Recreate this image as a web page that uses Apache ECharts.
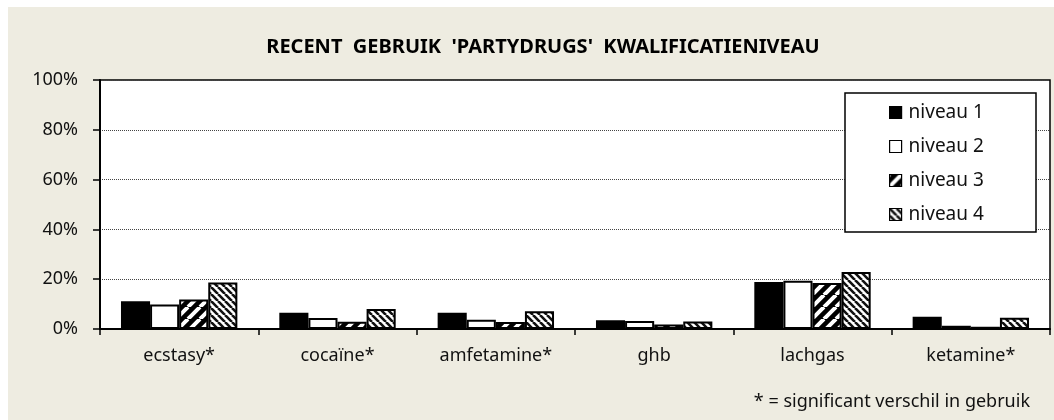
<!DOCTYPE html>
<html>
<head>
<meta charset="utf-8">
<script src="https://cdn.jsdelivr.net/npm/echarts@6/dist/echarts.min.js"></script>
<style>
  html, body { margin: 0; padding: 0; background: #ffffff; }
  #chart { position: absolute; left: 8px; top: 7px; width: 1046px; height: 413px; background: #EEECE1; }
</style>
</head>
<body>
<div id="chart"></div>
<script>
// Recent gebruik van partydrugs per kwalificatieniveau (percentages)
const categories = ['ecstasy*', 'cocaïne*', 'amfetamine*', 'ghb', 'lachgas', 'ketamine*'];
const seriesNames = ['niveau 1', 'niveau 2', 'niveau 3', 'niveau 4'];
const niveau1 = [11.1, 6.5, 6.5, 3.5, 18.9, 4.9];
const niveau2 = [9.8, 4.4, 3.7, 3.2, 19.4, 1.3];
const niveau3 = [11.8, 2.9, 2.8, 1.8, 18.5, 0.9];
const niveau4 = [18.7, 8.0, 7.1, 3.0, 22.9, 4.5];
const yTicks = [0, 20, 40, 60, 80, 100];
const chartTitle = "RECENT  GEBRUIK  'PARTYDRUGS'  KWALIFICATIENIVEAU";
const footnote = '* = significant verschil in gebruik';

// Hatch fills for niveau 3 (wide upward diagonal) and niveau 4 (downward diagonal)
function stripeTile(size, bg, fg, width, upward) {
  const c = document.createElement('canvas');
  c.width = size; c.height = size;
  const g = c.getContext('2d');
  g.fillStyle = bg;
  g.fillRect(0, 0, size, size);
  g.strokeStyle = fg;
  g.lineWidth = width;
  g.beginPath();
  for (let o = -size; o <= size; o += size) {
    if (upward) { g.moveTo(o, size); g.lineTo(o + size, 0); }
    else { g.moveTo(o, 0); g.lineTo(o + size, size); }
  }
  g.stroke();
  return c;
}
const fills = [
  '#000000',
  '#ffffff',
  { image: stripeTile(12, '#000000', '#ffffff', 4, true), repeat: 'repeat' },
  { image: stripeTile(7, '#ffffff', '#111111', 2.6, false), repeat: 'repeat' }
];
const values = [niveau1, niveau2, niveau3, niveau4];

const textColor = '#111111';
const fontFamily = '"Noto Sans", "Open Sans", sans-serif';

const chart = echarts.init(document.getElementById('chart'), null, { renderer: 'canvas' });
chart.setOption({
  backgroundColor: 'transparent',
  animation: false,
  textStyle: { fontFamily: fontFamily },
  title: [
    {
      text: footnote,
      right: 24,
      top: 386,
      padding: 0,
      textStyle: { fontFamily: fontFamily, fontSize: 18, fontWeight: 'normal', color: textColor }
    }
  ],
  graphic: [
    {
      type: 'text',
      x: 535,
      y: 40,
      style: {
        text: chartTitle,
        fill: '#000000',
        font: 'bold 20px ' + fontFamily,
        textAlign: 'center',
        textVerticalAlign: 'middle'
      }
    },
    {
      type: 'rect',
      z: 3,
      shape: { x: 837, y: 86, width: 191, height: 139 },
      style: { fill: '#ffffff', stroke: '#000000', lineWidth: 1.5 }
    }
  ],
  legend: {
    orient: 'vertical',
    left: 881,
    top: 96,
    padding: 0,
    z: 4,
    itemWidth: 12,
    itemHeight: 12,
    itemGap: 15,
    icon: 'rect',
    data: seriesNames,
    itemStyle: { borderColor: '#000000', borderWidth: 1.2 },
    textStyle: { fontFamily: fontFamily, fontSize: 19, color: textColor, padding: [0, 0, 0, 2] }
  },
  grid: {
    left: 92, top: 73, right: 4, bottom: 91,
    show: true,
    backgroundColor: '#ffffff',
    borderColor: '#000000',
    borderWidth: 1.5
  },
  xAxis: {
    type: 'category',
    data: categories,
    axisLine: { lineStyle: { color: '#000000', width: 2 } },
    axisTick: { show: true, length: 6, lineStyle: { color: '#000000', width: 1.5 } },
    axisLabel: { margin: 18, fontSize: 18, color: textColor, fontFamily: fontFamily },
    splitLine: { show: false }
  },
  yAxis: {
    type: 'value',
    min: yTicks[0],
    max: yTicks[yTicks.length - 1],
    interval: yTicks[1] - yTicks[0],
    axisLine: { show: true, lineStyle: { color: '#000000', width: 2 } },
    axisTick: { show: true, length: 7, lineStyle: { color: '#000000', width: 1.5 } },
    axisLabel: { margin: 22, fontSize: 18, color: textColor, fontFamily: fontFamily, formatter: '{value}%' },
    splitLine: { show: true, lineStyle: { type: 'dotted', color: '#444444', width: 1 } }
  },
  series: seriesNames.map((name, i) => ({
    name: name,
    type: 'bar',
    data: values[i],
    barGap: '0%',
    barCategoryGap: '26.5%',
    itemStyle: { color: fills[i], borderColor: '#000000', borderWidth: 2 }
  }))
});
</script>
</body>
</html>
